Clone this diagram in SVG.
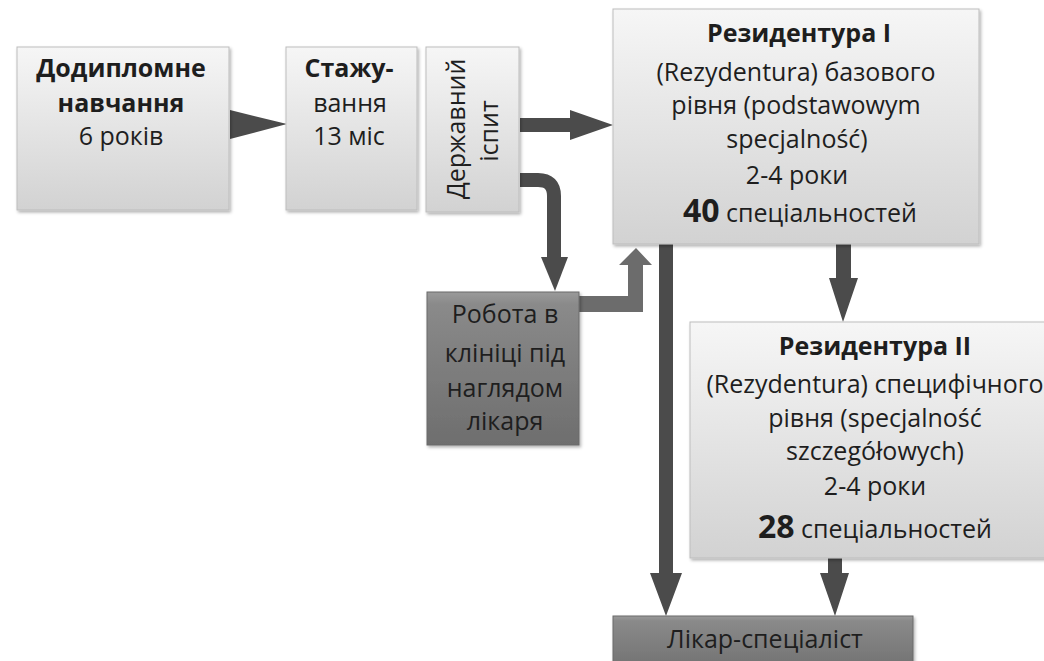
<svg xmlns="http://www.w3.org/2000/svg" width="1044" height="661" viewBox="0 0 1044 661">
<defs>
<linearGradient id="light" x1="0" y1="0" x2="0" y2="1">
<stop offset="0" stop-color="#f6f6f6"/>
<stop offset="1" stop-color="#d2d2d2"/>
</linearGradient>
<linearGradient id="dark" x1="0" y1="0" x2="0" y2="1">
<stop offset="0" stop-color="#9a9a9a"/>
<stop offset="0.08" stop-color="#8a8a8a"/>
<stop offset="1" stop-color="#6e6e6e"/>
</linearGradient>
<filter id="sh" x="-10%" y="-10%" width="125%" height="125%">
<feDropShadow dx="1.5" dy="2" stdDeviation="1.5" flood-color="#000" flood-opacity="0.3"/>
</filter>
<style>
.lb{fill:url(#light);stroke:#bdbdbd;stroke-width:1;filter:url(#sh)}
.db{fill:url(#dark);stroke:#6a6a6a;stroke-width:1;filter:url(#sh)}
.t{font-family:"Open Sans","Noto Sans",sans-serif;font-size:25px;fill:#1e1e1e;text-anchor:middle}
.b{font-weight:bold}
.arr{fill:#4b4b4b;stroke:none}
.arr2{fill:#6c6c6c;stroke:none}
</style>
</defs>
<rect width="1044" height="661" fill="#ffffff"/>

<g id="connectors">
<polygon class="arr" points="230,110 287,124 230,139"/>
<polygon class="arr" points="520,118 570,118 570,110 613,125 570,140 570,132 520,132"/>
<path d="M520,180 H538 Q554,180 554,196 V259" fill="none" stroke="#4b4b4b" stroke-width="14"/>
<polygon class="arr" points="541,257 568,257 555,291"/>
<polygon class="arr2" points="578,296 628,296 628,265 619,265 636,248 652,265 643,265 643,312 578,312"/>
<polygon class="arr" points="659,244 673,244 673,573 682,573 666,616 650,573 659,573"/>
<polygon class="arr" points="836,244 851,244 851,278 858,278 843,322 829,278 836,278"/>
<polygon class="arr" points="828,557 842,557 842,573 849,573 835,616 820,573 828,573"/>
</g>

<g id="n-dodyplomne">
<rect class="lb" x="17" y="47" width="212" height="163"/>
<text class="t b" x="121" y="77">Додипломне</text>
<text class="t b" x="121" y="112">навчання</text>
<text class="t" x="121" y="145">6 років</text>
</g>

<g id="n-stazhuvannya">
<rect class="lb" x="286" y="47" width="131" height="163"/>
<text class="t b" x="349" y="77">Стажу-</text>
<text class="t" x="350" y="112">вання</text>
<text class="t" x="349" y="145">13 міс</text>
</g>

<g id="n-ispyt">
<rect class="lb" x="426" y="47" width="93" height="165"/>
<text class="t" transform="translate(465,129) rotate(-90)">Державний</text>
<text class="t" transform="translate(498,131) rotate(-90)">іспит</text>
</g>

<g id="n-rez1">
<rect class="lb" x="613" y="9" width="366" height="235"/>
<text class="t b" x="799" y="42">Резидентура I</text>
<text class="t" x="796" y="81">(Rezydentura) базового</text>
<text class="t" x="796" y="114">рівня (podstawowym</text>
<text class="t" x="797" y="148">specjalność)</text>
<text class="t" x="797" y="184">2-4 роки</text>
<text class="t" x="800" y="222"><tspan class="b" font-size="32">40</tspan> спеціальностей</text>
</g>

<g id="n-robota">
<rect class="db" x="427" y="292" width="152" height="153"/>
<text class="t" x="505" y="323">Робота в</text>
<text class="t" x="505" y="362">клініці під</text>
<text class="t" x="505" y="397">наглядом</text>
<text class="t" x="505" y="430">лікаря</text>
</g>

<g id="n-rez2">
<rect class="lb" x="690" y="322" width="380" height="236"/>
<text class="t b" x="875" y="355">Резидентура II</text>
<text class="t" x="875" y="393">(Rezydentura) специфічного</text>
<text class="t" x="875" y="427">рівня (specjalność</text>
<text class="t" x="875" y="460">szczegółowych)</text>
<text class="t" x="875" y="495">2-4 роки</text>
<text class="t" x="875" y="538"><tspan class="b" font-size="32">28</tspan> спеціальностей</text>
</g>

<g id="n-likar">
<rect class="db" x="613" y="616" width="300" height="60"/>
<text class="t" x="765" y="648">Лікар-спеціаліст</text>
</g>
</svg>
